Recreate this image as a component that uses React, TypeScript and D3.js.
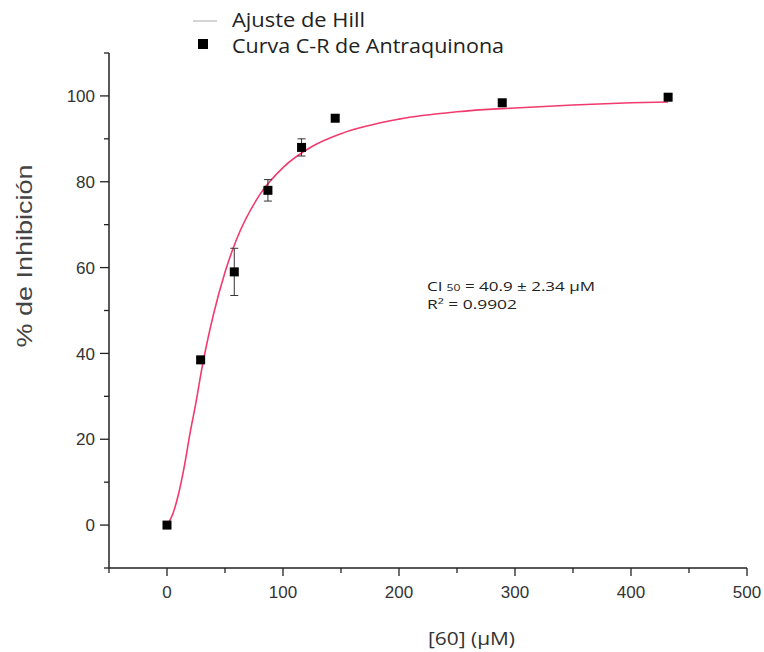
import React from "react";
import * as d3 from "d3";

const concentrations = [0, 29, 58, 87, 116, 145, 289, 432];
const inhibition = [0, 38.5, 59, 78, 88, 94.8, 98.4, 99.7];
const errors = [0.4, 0.6, 5.5, 2.5, 2, 0.5, 0.6, 0.5];

const fitX = [0, 5, 10, 15, 20, 25, 30, 40, 50, 60, 80, 100, 125, 150, 200, 250, 300, 350, 400, 432];
const fitY = [0, 2.6, 7.3, 13.8, 21.6, 28.6, 36.4, 49.0, 58.9, 66.6, 77.0, 83.3, 88.2, 91.2, 94.6, 96.3, 97.2, 97.9, 98.4, 98.6];

const xMajor = [0, 100, 200, 300, 400, 500];
const xMinor = [-50, 50, 150, 250, 350, 450];
const yMajor = [0, 20, 40, 60, 80, 100];
const yMinor = [-10, 10, 30, 50, 70, 90, 110];

const legendLabels = ["Ajuste de Hill", "Curva C-R de Antraquinona"];

export default function App() {
  const W = 764, H = 652;
  const x = d3.scaleLinear().domain([-50, 500]).range([109, 747]);
  const y = d3.scaleLinear().domain([-10, 110]).range([568, 53]);
  const line = d3
    .line<number>()
    .x((_, i) => x(fitX[i]))
    .y((d) => y(d))
    .curve(d3.curveMonotoneX);
  const tickFont = "'Liberation Sans', Arial, sans-serif";
  const calFont = "'Open Sans', sans-serif";
  const axisColor = "#222";
  const curveColor = "#f23a6e";
  const sq = 9;
  return (
    <svg width={W} height={H} style={{ position: "absolute", left: 0, top: 0, background: "#fff" }}>
      {/* axes */}
      <line x1={x(-50)} x2={x(-50)} y1={y(-10)} y2={y(110)} stroke={axisColor} strokeWidth={1.5} />
      <line x1={x(-50)} x2={x(500)} y1={y(-10)} y2={y(-10)} stroke={axisColor} strokeWidth={1.5} />
      {yMajor.map((v) => (
        <g key={"ym" + v}>
          <line x1={x(-50) - 9} x2={x(-50)} y1={y(v)} y2={y(v)} stroke={axisColor} strokeWidth={1.3} />
          <text x={x(-50) - 14} y={y(v)} dy="0.36em" textAnchor="end" fontFamily={tickFont} fontSize={17} fill="#333">
            {v}
          </text>
        </g>
      ))}
      {yMinor.map((v) => (
        <line key={"yn" + v} x1={x(-50) - 5} x2={x(-50)} y1={y(v)} y2={y(v)} stroke={axisColor} strokeWidth={1.3} />
      ))}
      {xMajor.map((v) => (
        <g key={"xm" + v}>
          <line x1={x(v)} x2={x(v)} y1={y(-10)} y2={y(-10) + 8} stroke={axisColor} strokeWidth={1.3} />
          <text x={x(v)} y={y(-10) + 30} textAnchor="middle" fontFamily={tickFont} fontSize={17} fill="#333">
            {v}
          </text>
        </g>
      ))}
      {xMinor.map((v) => (
        <line key={"xn" + v} x1={x(v)} x2={x(v)} y1={y(-10)} y2={y(-10) + 5} stroke={axisColor} strokeWidth={1.3} />
      ))}
      {/* axis labels */}
      <text
        transform={`translate(32,${256}) rotate(-90)`}
        textAnchor="middle"
        fontFamily={tickFont}
        fontSize={22}
        textLength={183}
        lengthAdjust="spacingAndGlyphs"
        fill="#444"
      >
        % de Inhibición
      </text>
      <text
        x={428}
        y={645}
        fontFamily={calFont}
        fontSize={18}
        textLength={87}
        lengthAdjust="spacingAndGlyphs"
        fill="#333"
      >
        [60] (µM)
      </text>
      {/* fit curve */}
      <path d={line(fitY) || ""} fill="none" stroke={curveColor} strokeWidth={1.6} />
      {/* error bars */}
      {concentrations.map((c, i) => (
        <g key={"e" + i} stroke="#333" strokeWidth={1}>
          <line x1={x(c)} x2={x(c)} y1={y(inhibition[i] - errors[i])} y2={y(inhibition[i] + errors[i])} />
          <line x1={x(c) - 4} x2={x(c) + 4} y1={y(inhibition[i] - errors[i])} y2={y(inhibition[i] - errors[i])} />
          <line x1={x(c) - 4} x2={x(c) + 4} y1={y(inhibition[i] + errors[i])} y2={y(inhibition[i] + errors[i])} />
        </g>
      ))}
      {/* markers */}
      {concentrations.map((c, i) => (
        <rect key={"p" + i} x={x(c) - sq / 2} y={y(inhibition[i]) - sq / 2} width={sq} height={sq} fill="#000" />
      ))}
      {/* annotation */}
      <text x={427} y={291} fontFamily={calFont} fontSize={12.5} fill="#222" textLength={168} lengthAdjust="spacingAndGlyphs">
        CI<tspan fontSize={9} dx={3}>50</tspan>
        <tspan> = 40.9 ± 2.34 µM</tspan>
      </text>
      <text x={427} y={309} fontFamily={calFont} fontSize={12.5} fill="#222" textLength={90} lengthAdjust="spacingAndGlyphs">
        R² = 0.9902
      </text>
      {/* legend */}
      <line x1={193} x2={217} y1={21} y2={21} stroke="#aaa" strokeWidth={1} />
      <text x={232} y={27} fontFamily={calFont} fontSize={20} fill="#222" textLength={133} lengthAdjust="spacingAndGlyphs">
        {legendLabels[0]}
      </text>
      <rect x={198} y={39} width={10} height={10} fill="#000" />
      <text x={232} y={53} fontFamily={calFont} fontSize={20} fill="#222" textLength={272} lengthAdjust="spacingAndGlyphs">
        {legendLabels[1]}
      </text>
    </svg>
  );
}
